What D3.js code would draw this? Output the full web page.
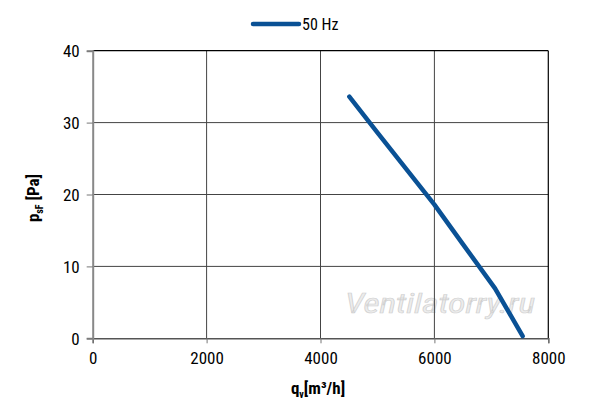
<!DOCTYPE html>
<html>
<head>
<meta charset="utf-8">
<script src="https://cdn.jsdelivr.net/npm/d3@7"></script>
<style>
  html, body { margin: 0; padding: 0; background: #fff; }
  svg { display: block; }
  text { font-family: "Liberation Sans Narrow", "Roboto Condensed", "Liberation Sans", sans-serif; }
</style>
</head>
<body>
<svg id="chart" width="600" height="408"></svg>
<script>
// ---- data ----
const seriesName = "50 Hz";
const flow = [4506, 5000, 5500, 6000, 6500, 7064, 7550];     // qv [m3/h]
const pressure = [33.6, 28.6, 23.6, 18.6, 13.1, 6.95, 0.3]; // psF [Pa]
const xTicks = [0, 2000, 4000, 6000, 8000];
const yTicks = [0, 10, 20, 30, 40];
const watermark = "Ventilatorry.ru";

const svg = d3.select("#chart");
const m = { left: 92.7, right: 548.3, top: 50.7, bottom: 338.3 };
const x = d3.scaleLinear().domain([0, 8000]).range([m.left, m.right]);
const y = d3.scaleLinear().domain([0, 40]).range([m.bottom, m.top]);

// watermark
svg.append("text")
  .attr("x", 345).attr("y", 313)
  .attr("textLength", 190).attr("lengthAdjust", "spacingAndGlyphs")
  .attr("font-size", 28).attr("font-style", "italic")
  .attr("fill", "#ececec").attr("stroke", "#cfcfcf").attr("stroke-width", 0.6)
  .text(watermark);

// grid
const g = svg.append("g");
g.selectAll(".vg").data(xTicks.slice(1, -1)).join("line")
  .attr("x1", d => x(d)).attr("x2", d => x(d))
  .attr("y1", m.top).attr("y2", m.bottom)
  .attr("stroke", "#444").attr("stroke-width", 1);
g.selectAll(".hg").data(yTicks.slice(1, -1)).join("line")
  .attr("x1", m.left).attr("x2", m.right)
  .attr("y1", d => y(d)).attr("y2", d => y(d))
  .attr("stroke", "#444").attr("stroke-width", 1);

// border top/right
svg.append("line").attr("x1", m.left).attr("x2", m.right).attr("y1", m.top).attr("y2", m.top)
  .attr("stroke", "#000").attr("stroke-width", 1.2);
svg.append("line").attr("x1", m.right).attr("x2", m.right).attr("y1", m.top).attr("y2", m.bottom)
  .attr("stroke", "#000").attr("stroke-width", 1.2);

// axes
const xAxis = d3.axisBottom(x).tickValues(xTicks).tickSize(5).tickPadding(9).tickFormat(d3.format("d"));
const yAxis = d3.axisLeft(y).tickValues(yTicks).tickSize(6).tickPadding(7).tickFormat(d3.format("d"));

const xa = svg.append("g").attr("transform", `translate(0,${m.bottom})`).call(xAxis);
xa.select(".domain").attr("stroke", "#555").attr("stroke-width", 1.4);
xa.selectAll(".tick line").attr("stroke", "#777");
xa.selectAll("text").attr("font-size", 17).attr("fill", "#000");

const ya = svg.append("g").attr("transform", `translate(${m.left},0)`).call(yAxis);
ya.select(".domain").attr("stroke", "#888").attr("stroke-width", 2);
ya.selectAll(".tick line").attr("stroke", "#777");
ya.selectAll("text").attr("font-size", 17).attr("fill", "#000").attr("dy", "0.35em");

// curve
const line = d3.line().x((d, i) => x(flow[i])).y(d => y(d));
svg.append("path").datum(pressure)
  .attr("d", line)
  .attr("fill", "none").attr("stroke", "#0a5195").attr("stroke-width", 4.5)
  .attr("stroke-linecap", "round").attr("stroke-linejoin", "round");

// legend
svg.append("line").attr("x1", 253).attr("x2", 299).attr("y1", 24).attr("y2", 24)
  .attr("stroke", "#0a5195").attr("stroke-width", 4.5).attr("stroke-linecap", "round");
svg.append("text").attr("x", 302).attr("y", 29.5).attr("font-size", 16).attr("fill", "#000").text(seriesName);

// x title
const xt = svg.append("text").attr("x", 318).attr("y", 394).attr("text-anchor", "middle")
  .attr("font-size", 17).attr("font-weight", "bold").attr("fill", "#000");
xt.append("tspan").text("q");
xt.append("tspan").attr("font-size", 10).attr("dy", 4).text("v");
xt.append("tspan").attr("dy", -4).text("[m³/h]");

// y title
const yt = svg.append("text").attr("transform", "translate(39,198) rotate(-90)").attr("text-anchor", "middle")
  .attr("font-size", 17).attr("font-weight", "bold").attr("fill", "#000");
yt.append("tspan").text("p");
yt.append("tspan").attr("font-size", 10).attr("dy", 4).text("sF");
yt.append("tspan").attr("dy", -4).text(" [Pa]");
</script>
</body>
</html>
